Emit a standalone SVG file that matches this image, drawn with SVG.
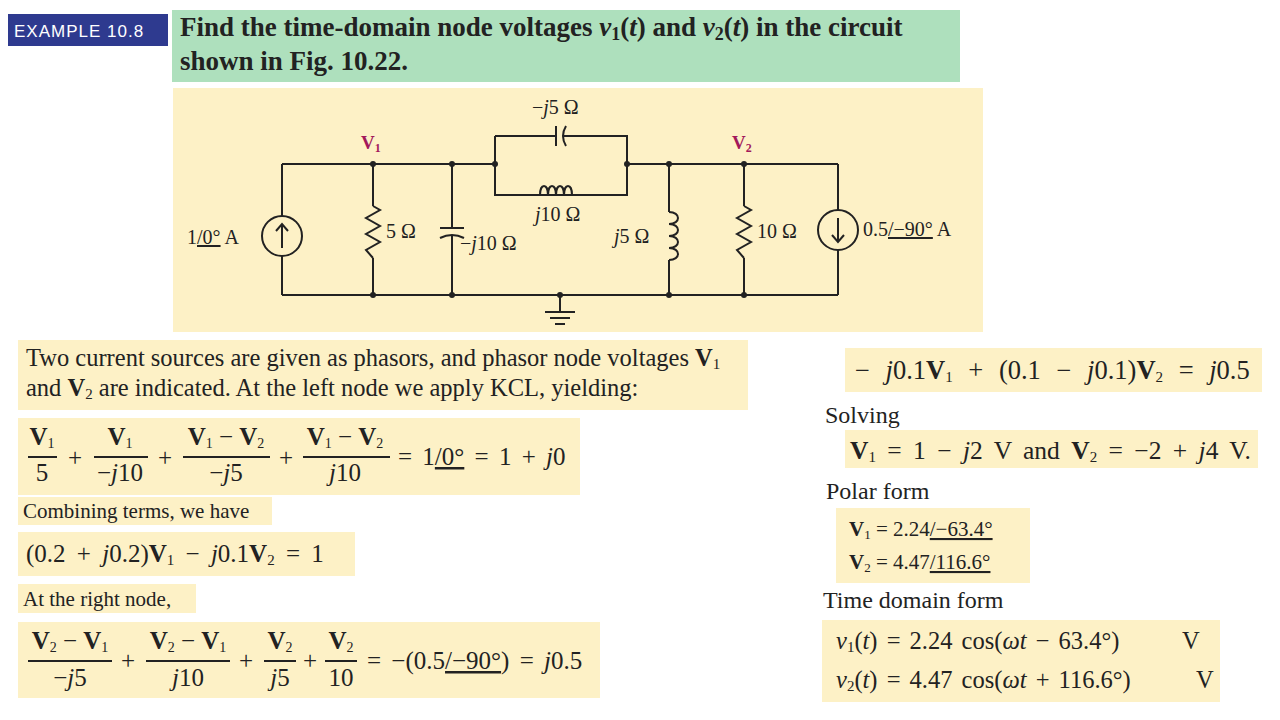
<svg xmlns="http://www.w3.org/2000/svg" width="1280" height="720" viewBox="0 0 1280 720">
<style>
.bg{fill:#fdf1c6}
.t{font-family:"Liberation Serif",serif;fill:#222}
.w{stroke:#222;stroke-width:2;fill:none}
.d{fill:#222}
.v{font-family:"Liberation Serif",serif;font-weight:bold;fill:#a3195b;font-size:19px}
.i{font-style:italic}
.b{font-weight:bold}
</style>
<rect width="1280" height="720" fill="#fff"/>
<g id="header">
<rect x="8" y="14" width="160" height="32" fill="#2e3a8f"/>
<text x="14" y="37" font-family="Liberation Sans,sans-serif" font-size="17" fill="#fff" letter-spacing="1">EXAMPLE  10.8</text>
<rect x="172" y="10" width="788" height="72" fill="#aee0bd"/>
<text class="t b" x="180" y="36" font-size="27">Find the time-domain node voltages <tspan class="i">v</tspan><tspan font-size="18" dy="4">1</tspan><tspan dy="-4">(</tspan><tspan class="i">t</tspan>) and <tspan class="i">v</tspan><tspan font-size="18" dy="4">2</tspan><tspan dy="-4">(</tspan><tspan class="i">t</tspan>) in the circuit</text>
<text class="t b" x="180" y="70" font-size="27">shown in Fig. 10.22.</text>
</g>
<rect class="bg" x="173" y="88" width="810" height="244"/>
<g id="connectors">
<path class="w" d="M282 164H495M627 164H838M282 295H838M282 164V216M282 256V295M838 164V210M838 250V295"/>
<path class="w" d="M495 136H556M564 136H627V195H495V136"/>
<path class="w" d="M373 164V206M373 258V295"/>
<path class="w" d="M452 164V228M452 236V295"/>
<path class="w" d="M669 164V212M669 260V295"/>
<path class="w" d="M744 164V206M744 258V295"/>
<path class="w" d="M560 295V312M545 312H575M550 318H570M555 324H565"/>
</g>
<g id="src1"><circle class="w" cx="282" cy="236" r="20"/><path class="w" d="M282 248V224M276 231L282 224L288 231"/><text class="t" x="187" y="244" font-size="20">1<tspan text-decoration="underline">/0°</tspan> A</text></g>
<g id="r5"><path class="w" d="M373 206l7 4l-14 8l14 8l-14 8l14 8l-14 8l7 8"/><text class="t" x="386" y="238" font-size="20">5 Ω</text></g>
<g id="c10"><path class="w" d="M440 228H464M440 238Q452 232 464 238"/><text class="t" x="460" y="250" font-size="20">−<tspan class="i">j</tspan>10 Ω</text></g>
<g id="c5"><path class="w" d="M556 126V146M566 126Q560 136 566 146"/><text class="t" x="532" y="114" font-size="20">−<tspan class="i">j</tspan>5 Ω</text></g>
<g id="l10"><path class="w" d="M540 195c0-12 8-12 8 0c0-12 8-12 8 0c0-12 8-12 8 0c0-12 8-12 8 0"/><text class="t" x="535" y="221" font-size="20"><tspan class="i">j</tspan>10 Ω</text></g>
<g id="l5"><path class="w" d="M669 212c12 0 12 12 0 12c12 0 12 12 0 12c12 0 12 12 0 12c12 0 12 12 0 12"/><text class="t" x="614" y="243" font-size="20"><tspan class="i">j</tspan>5 Ω</text></g>
<g id="r10"><path class="w" d="M744 206l7 4l-14 8l14 8l-14 8l14 8l-14 8l7 8"/><text class="t" x="757" y="238" font-size="20">10 Ω</text></g>
<g id="src2"><circle class="w" cx="838" cy="230" r="20"/><path class="w" d="M838 218V242M832 235L838 242L844 235"/><text class="t" x="863" y="236" font-size="20">0.5<tspan text-decoration="underline">/−90°</tspan> A</text></g>
<g id="dots" class="d">
<circle cx="373" cy="164" r="3"/><circle cx="452" cy="164" r="3"/><circle cx="495" cy="164" r="3"/><circle cx="627" cy="164" r="3"/><circle cx="669" cy="164" r="3"/><circle cx="744" cy="164" r="3"/>
<circle cx="373" cy="295" r="3"/><circle cx="452" cy="295" r="3"/><circle cx="560" cy="295" r="3"/><circle cx="669" cy="295" r="3"/><circle cx="744" cy="295" r="3"/>
</g>
<text class="v" x="361" y="149">V<tspan font-size="12" dy="3">1</tspan></text>
<text class="v" x="732" y="149">V<tspan font-size="12" dy="3">2</tspan></text>

<g id="left">
<rect class="bg" x="18" y="340" width="730" height="70"/>
<text class="t" x="26" y="366" font-size="24.5">Two current sources are given as phasors, and phasor node voltages <tspan class="b">V</tspan><tspan font-size="15" dy="3">1</tspan></text>
<text class="t" x="26" y="396" font-size="24.5">and <tspan class="b">V</tspan><tspan font-size="15" dy="3">2</tspan><tspan dy="-3"> are indicated. At the left node we apply KCL, yielding:</tspan></text>

<rect class="bg" x="18" y="418" width="562" height="77"/>
<g class="t" font-size="25" text-anchor="middle">
<text x="42" y="445"><tspan class="b">V</tspan><tspan font-size="14" dy="3">1</tspan></text><text x="42" y="481">5</text>
<text x="75" y="466">+</text>
<text x="120" y="445"><tspan class="b">V</tspan><tspan font-size="14" dy="3">1</tspan></text><text x="120" y="481">−<tspan class="i">j</tspan>10</text>
<text x="165" y="466">+</text>
<text x="226" y="445"><tspan class="b">V</tspan><tspan font-size="14" dy="3">1</tspan><tspan dy="-3"> − </tspan><tspan class="b">V</tspan><tspan font-size="14" dy="3">2</tspan></text><text x="226" y="481">−<tspan class="i">j</tspan>5</text>
<text x="286" y="466">+</text>
<text x="345" y="445"><tspan class="b">V</tspan><tspan font-size="14" dy="3">1</tspan><tspan dy="-3"> − </tspan><tspan class="b">V</tspan><tspan font-size="14" dy="3">2</tspan></text><text x="345" y="481"><tspan class="i">j</tspan>10</text>
</g>
<path class="w" stroke-width="1.5" d="M28 457H57M94 457H148M183 457H270M303 457H390"/>
<text class="t" x="398" y="465" font-size="25" word-spacing="4">= 1<tspan text-decoration="underline">/0°</tspan> = 1 + <tspan class="i">j</tspan>0</text>

<rect class="bg" x="18" y="497" width="254" height="28"/>
<text class="t" x="23" y="518" font-size="21">Combining terms, we have</text>
<rect class="bg" x="18" y="532" width="337" height="44"/>
<text class="t" x="26" y="562" font-size="25" word-spacing="5">(0.2 + <tspan class="i">j</tspan>0.2)<tspan class="b">V</tspan><tspan font-size="15" dy="3">1</tspan><tspan dy="-3"> − </tspan><tspan class="i">j</tspan>0.1<tspan class="b">V</tspan><tspan font-size="15" dy="3">2</tspan><tspan dy="-3"> = 1</tspan></text>
<rect class="bg" x="18" y="584" width="178" height="29"/>
<text class="t" x="23" y="606" font-size="21">At the right node,</text>

<rect class="bg" x="18" y="622" width="582" height="76"/>
<g class="t" font-size="25" text-anchor="middle">
<text x="70" y="649"><tspan class="b">V</tspan><tspan font-size="14" dy="3">2</tspan><tspan dy="-3"> − </tspan><tspan class="b">V</tspan><tspan font-size="14" dy="3">1</tspan></text><text x="70" y="686">−<tspan class="i">j</tspan>5</text>
<text x="128" y="669">+</text>
<text x="188" y="649"><tspan class="b">V</tspan><tspan font-size="14" dy="3">2</tspan><tspan dy="-3"> − </tspan><tspan class="b">V</tspan><tspan font-size="14" dy="3">1</tspan></text><text x="188" y="686"><tspan class="i">j</tspan>10</text>
<text x="246" y="669">+</text>
<text x="280" y="649"><tspan class="b">V</tspan><tspan font-size="14" dy="3">2</tspan></text><text x="280" y="686"><tspan class="i">j</tspan>5</text>
<text x="310" y="669">+</text>
<text x="341" y="649"><tspan class="b">V</tspan><tspan font-size="14" dy="3">2</tspan></text><text x="341" y="686">10</text>
</g>
<path class="w" stroke-width="1.5" d="M28 661H112M146 661H230M264 661H296M325 661H357"/>
<text class="t" x="367" y="669" font-size="25" word-spacing="4">= −(0.5<tspan text-decoration="underline">/−90°</tspan>) = <tspan class="i">j</tspan>0.5</text>
</g>

<g id="right">
<rect class="bg" x="845" y="348" width="417" height="44"/>
<text class="t" x="855" y="379" font-size="26.5" word-spacing="9">− <tspan class="i">j</tspan>0.1<tspan class="b">V</tspan><tspan font-size="15" dy="3">1</tspan><tspan dy="-3"> + (0.1 − </tspan><tspan class="i">j</tspan>0.1)<tspan class="b">V</tspan><tspan font-size="15" dy="3">2</tspan><tspan dy="-3"> = </tspan><tspan class="i">j</tspan>0.5</text>
<text class="t" x="825" y="423" font-size="24">Solving</text>
<rect class="bg" x="845" y="430" width="413" height="38"/>
<text class="t" x="850" y="459" font-size="25.5" word-spacing="5">
<tspan class="b">V</tspan><tspan font-size="15" dy="3">1</tspan><tspan dy="-3"> = 1 − </tspan><tspan class="i">j</tspan>2 V and <tspan class="b">V</tspan><tspan font-size="15" dy="3">2</tspan><tspan dy="-3"> = −2 + </tspan><tspan class="i">j</tspan>4 V.</text>
<text class="t" x="826" y="499" font-size="24">Polar form</text>
<rect class="bg" x="836" y="508" width="194" height="75"/>
<text class="t" x="849" y="536" font-size="21"><tspan class="b">V</tspan><tspan font-size="13" dy="3">1</tspan><tspan dy="-3"> = 2.24</tspan><tspan text-decoration="underline">/−63.4°</tspan></text>
<text class="t" x="849" y="569" font-size="21"><tspan class="b">V</tspan><tspan font-size="13" dy="3">2</tspan><tspan dy="-3"> = 4.47</tspan><tspan text-decoration="underline">/116.6°</tspan></text>
<text class="t" x="823" y="608" font-size="24">Time domain form</text>
<rect class="bg" x="822" y="620" width="398" height="82"/>
<text class="t" x="836" y="649" font-size="24.5" word-spacing="3"><tspan class="i">v</tspan><tspan font-size="15" dy="3">1</tspan><tspan dy="-3">(</tspan><tspan class="i">t</tspan>) = 2.24 cos(<tspan class="i">ωt</tspan> − 63.4°)</text>
<text class="t" x="1182" y="649" font-size="24.5">V</text>
<text class="t" x="836" y="688" font-size="24.5" word-spacing="3"><tspan class="i">v</tspan><tspan font-size="15" dy="3">2</tspan><tspan dy="-3">(</tspan><tspan class="i">t</tspan>) = 4.47 cos(<tspan class="i">ωt</tspan> + 116.6°)</text>
<text class="t" x="1196" y="688" font-size="24.5">V</text>
</g>
</svg>
